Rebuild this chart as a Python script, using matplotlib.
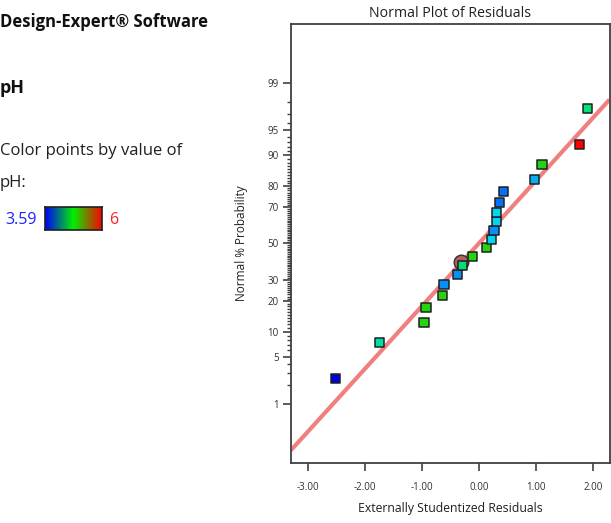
import numpy as np
import matplotlib
matplotlib.use("Agg")
import matplotlib.pyplot as plt
from matplotlib.colors import LinearSegmentedColormap
from matplotlib.ticker import FixedLocator, NullLocator, FixedFormatter
from matplotlib.collections import LineCollection
from matplotlib.transforms import blended_transform_factory
from statistics import NormalDist

# ---------------- data ----------------
residuals = [-2.51, -1.74, -0.96, -0.925, -0.64, -0.61, -0.37, -0.285, -0.115, 0.134,
             0.222, 0.268, 0.314, 0.314, 0.361, 0.436, 0.977, 1.106, 1.76, 1.90]
probability = [2.5, 7.5, 12.5, 17.5, 22.5, 27.5, 32.5, 37.5, 42.5, 47.5,
               52.5, 57.5, 62.5, 67.5, 72.5, 77.5, 82.5, 87.5, 92.5, 97.5]
ph_values = [3.59, 4.6, 5.0, 5.0, 5.0, 4.0, 4.0, 4.7, 5.0, 5.0,
             4.3, 4.0, 4.3, 4.3, 3.9, 3.9, 4.1, 5.0, 6.0, 4.7]
highlight_x = [-0.314]
highlight_p = [39.5]
fit_slope = 0.913      # z per unit residual
fit_intercept = 0.0
ph_min, ph_max = 3.59, 6.0
y_major = [1, 5, 10, 20, 30, 50, 70, 80, 90, 95, 99]
y_minor = [p for p in range(2, 99) if p not in y_major]
x_ticks = [-3, -2, -1, 0, 1, 2]
x_tick_labels = ["-3.00", "-2.00", "-1.00", "0.00", "1.00", "2.00"]

# ---------------- helpers ----------------
_nd = NormalDist()
_inv = np.vectorize(lambda p: _nd.inv_cdf(min(max(p / 100.0, 1e-9), 1 - 1e-9)), otypes=[float])
_cdf = np.vectorize(lambda z: _nd.cdf(z) * 100.0, otypes=[float])

def fwd(p):
    return _inv(np.asarray(p, dtype=float))

def inv(z):
    return _cdf(np.asarray(z, dtype=float))

point_cmap = LinearSegmentedColormap.from_list("pts", [
    (0.00, "#0000e0"), (0.10, "#0060f8"), (0.20, "#0aa8f8"), (0.30, "#00d8f0"),
    (0.42, "#00e0a0"), (0.55, "#10e010"), (0.78, "#909000"), (1.00, "#ff0000")])
bar_cmap = LinearSegmentedColormap.from_list("bar", [
    (0.0, "#0000ff"), (0.5, "#00f000"), (1.0, "#ff0000")])

plt.rcParams['font.family'] = ['Open Sans', 'DejaVu Sans']

W, H = 611, 523
fig = plt.figure(figsize=(W / 100, H / 100), dpi=100)

ax_w_px = 609.5 - 291
ax = fig.add_axes([291 / W, 1 - 463 / H, ax_w_px / W, (463 - 24) / H])
ax.set_yscale('function', functions=(fwd, inv))
ax.yaxis.set_major_locator(FixedLocator(y_major))
ax.yaxis.set_major_formatter(FixedFormatter([str(v) for v in y_major]))
ax.yaxis.set_minor_locator(NullLocator())
ax.tick_params(axis='y', which='major', direction='out', length=6, width=1.2,
               color="#404040", labelsize=7, labelcolor="#303030", pad=3)

ax.xaxis.set_major_locator(FixedLocator(x_ticks))
ax.xaxis.set_major_formatter(FixedFormatter(x_tick_labels))
ax.xaxis.set_minor_locator(NullLocator())
ax.tick_params(axis='x', which='major', direction='out', length=6, width=1.2,
               color="#404040", labelsize=7, labelcolor="#303030", pad=8)

# fit line
lx = np.linspace(-3.29, 2.29, 50)
ly = inv(fit_slope * lx + fit_intercept)
ax.plot(lx, ly, color="#f08080", lw=3.0, solid_capstyle="butt", zorder=2, clip_on=True)

# highlighted point
ax.plot(highlight_x, highlight_p, 'o', ms=10.5, mfc="#b86060", mec="#303030", mew=1.0, zorder=3)

# points
norm_ph = (np.array(ph_values) - ph_min) / (ph_max - ph_min)
cols = point_cmap(norm_ph)
ax.scatter(residuals, probability, marker='s', s=44, c=cols, edgecolors="#202020",
           linewidths=1.1, zorder=4)

ax.set_xlim(-3.29, 2.29)
ax.set_ylim(0.0712, 99.9288)

# minor probability ticks on the left spine
minor_len = 4.5 / ax_w_px
trans = blended_transform_factory(ax.transAxes, ax.transData)
segs = [[(-minor_len, p), (0.0, p)] for p in y_minor]
lc = LineCollection(segs, colors="#404040", linewidths=1.0, transform=trans, clip_on=False,
                    zorder=5)
ax.add_collection(lc, autolim=False)
ax.set_xlim(-3.29, 2.29)
ax.set_ylim(0.0712, 99.9288)

for s in ax.spines.values():
    s.set_color("#404040")
    s.set_linewidth(1.3)

ax.set_title("Normal Plot of Residuals", fontsize=10.2, color="#202020", pad=5)
ax.set_xlabel("Externally Studentized Residuals", fontsize=8.8, color="#202020", labelpad=6)
ax.set_ylabel("Normal % Probability", fontsize=8.5, color="#202020", labelpad=14)

# left side texts
fig.text(0 / W, 1 - 22 / H, "Design-Expert\u00ae Software", fontsize=12, fontweight='bold',
         color="#101010", va='center', ha='left')
fig.text(0 / W, 1 - 88 / H, "pH", fontsize=13, fontweight='bold', color="#101010",
         va='center', ha='left')
fig.text(0 / W, 1 - 151 / H, "Color points by value of", fontsize=12, color="#202020",
         va='center', ha='left')
fig.text(0 / W, 1 - 183 / H, "pH:", fontsize=12, color="#202020", va='center', ha='left')
fig.text(5 / W, 1 - 220 / H, "3.59", fontsize=11.5, color="#2020ff", va='center', ha='left')
fig.text(109 / W, 1 - 220 / H, "6", fontsize=11.5, color="#ff2020", va='center', ha='left')

cax = fig.add_axes([45 / W, 1 - 230 / H, (102 - 45) / W, (230 - 207) / H])
grad = np.linspace(0, 1, 256).reshape(1, -1)
cax.imshow(grad, aspect='auto', cmap=bar_cmap)
cax.set_xticks([])
cax.set_yticks([])
for s in cax.spines.values():
    s.set_color("#202020")
    s.set_linewidth(1.2)

fig.savefig("out.png", dpi=100)
